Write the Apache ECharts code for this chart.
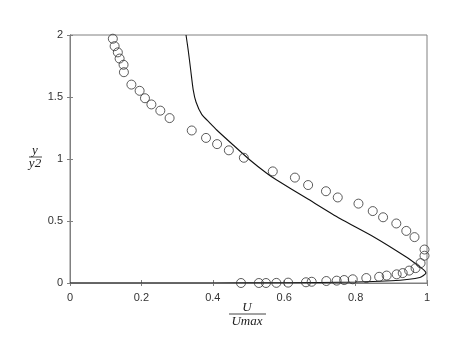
<!DOCTYPE html>
<html>
<head>
<meta charset="utf-8">
<script src="https://cdn.jsdelivr.net/npm/echarts@6/dist/echarts.min.js"></script>
<style>html,body{margin:0;padding:0;background:#fff}#c{width:474px;height:355px}</style>
</head>
<body>
<div id="c"></div>
<script>
// Experimental points (U/Umax, y/y2)
const expX = [0.120,0.125,0.134,0.139,0.150,0.151,0.172,0.195,0.210,0.228,0.253,0.279,0.341,0.381,0.412,0.445,0.487,
  0.568,0.630,0.667,0.717,0.750,0.808,0.848,0.877,0.914,0.942,0.965,0.993,0.993,0.982,0.968,0.950,0.932,0.915,0.887,0.866,
  0.830,0.792,0.768,0.747,0.718,0.677,0.661,0.611,0.578,0.549,0.529,0.479];
const expY = [1.97,1.91,1.86,1.81,1.76,1.70,1.60,1.55,1.49,1.44,1.39,1.33,1.23,1.17,1.12,1.07,1.01,
  0.90,0.85,0.79,0.74,0.69,0.64,0.58,0.53,0.48,0.42,0.37,0.27,0.22,0.16,0.12,0.10,0.08,0.07,0.06,0.05,
  0.04,0.03,0.024,0.019,0.016,0.010,0.006,0.003,0.001,0,0,0];
// Computed profile
const curveX = [0.325,0.331,0.338,0.345,0.353,0.369,0.392,0.411,0.457,0.504,0.551,0.579,0.663,0.756,0.850,0.943,0.980,0.993,0.997,0.990,0.980,0.950,0.900,0.800,0.600,0.400,0];
const curveY = [2.0,1.88,1.72,1.56,1.46,1.36,1.29,1.234,1.113,0.992,0.885,0.83,0.683,0.52,0.373,0.207,0.13,0.10,0.08,0.06,0.045,0.03,0.018,0.008,0.002,0,0];
const xTicks = [0,0.2,0.4,0.6,0.8,1];
const yTicks = [0,0.5,1,1.5,2];

const expData = expX.map((x,i)=>[x,expY[i]]);
const curveData = curveX.map((x,i)=>[x,curveY[i]]);

const axisCol = '#808080';
const lblStyle = {color:'#333', fontFamily:'Liberation Sans', fontSize:11};
function fmt(v){return String(v);}

const chart = echarts.init(document.getElementById('c'), null, {renderer:'canvas'});
chart.setOption({
  animation:false,
  backgroundColor:'#fff',
  grid:{left:70,right:47,top:35,bottom:72,show:true,borderColor:axisCol,borderWidth:1,backgroundColor:'transparent'},
  xAxis:[{
    type:'value',min:xTicks[0],max:xTicks[xTicks.length-1],interval:0.2,
    axisLine:{show:true,lineStyle:{color:axisCol}},
    axisTick:{show:true,inside:true,length:3,lineStyle:{color:axisCol}},
    splitLine:{show:false},
    axisLabel:Object.assign({margin:9,formatter:fmt},lblStyle)
  },{
    type:'value',position:'top',min:0,max:1,interval:0.2,
    axisLine:{show:true,lineStyle:{color:axisCol}},
    axisTick:{show:true,inside:true,length:3,lineStyle:{color:axisCol}},
    splitLine:{show:false},axisLabel:{show:false}
  }],
  yAxis:[{
    type:'value',min:yTicks[0],max:yTicks[yTicks.length-1],interval:0.5,
    axisLine:{show:true,lineStyle:{color:axisCol}},
    axisTick:{show:true,inside:true,length:3,lineStyle:{color:axisCol}},
    splitLine:{show:false},
    axisLabel:Object.assign({margin:7,formatter:fmt},lblStyle)
  },{
    type:'value',position:'right',min:0,max:2,interval:0.5,
    axisLine:{show:true,lineStyle:{color:axisCol}},
    axisTick:{show:true,inside:true,length:3,lineStyle:{color:axisCol}},
    splitLine:{show:false},axisLabel:{show:false}
  }],
  series:[{
    type:'line',data:curveData,showSymbol:false,symbol:'none',smooth:0.2,
    lineStyle:{color:'#111',width:1.1},z:3
  },{
    type:'scatter',data:expData,symbol:'circle',symbolSize:9,
    itemStyle:{color:'rgba(255,255,255,0)',borderColor:'#333',borderWidth:1},z:4
  }],
  graphic:[
    {type:'text',x:247,y:308,style:{text:'U',font:'italic 13px "Liberation Serif"',fill:'#222',align:'center',verticalAlign:'middle'}},
    {type:'line',shape:{x1:229,y1:314,x2:266,y2:314},style:{stroke:'#444',lineWidth:1}},
    {type:'text',x:247,y:322,style:{text:'Umax',font:'italic 13px "Liberation Serif"',fill:'#222',align:'center',verticalAlign:'middle'}},
    {type:'text',x:35,y:151,style:{text:'y',font:'italic 13px "Liberation Serif"',fill:'#222',align:'center',verticalAlign:'middle'}},
    {type:'line',shape:{x1:29,y1:157,x2:42,y2:157},style:{stroke:'#444',lineWidth:1}},
    {type:'text',x:35,y:164,style:{text:'y2',font:'italic 13px "Liberation Serif"',fill:'#222',align:'center',verticalAlign:'middle'}}
  ]
});
</script>
</body>
</html>
